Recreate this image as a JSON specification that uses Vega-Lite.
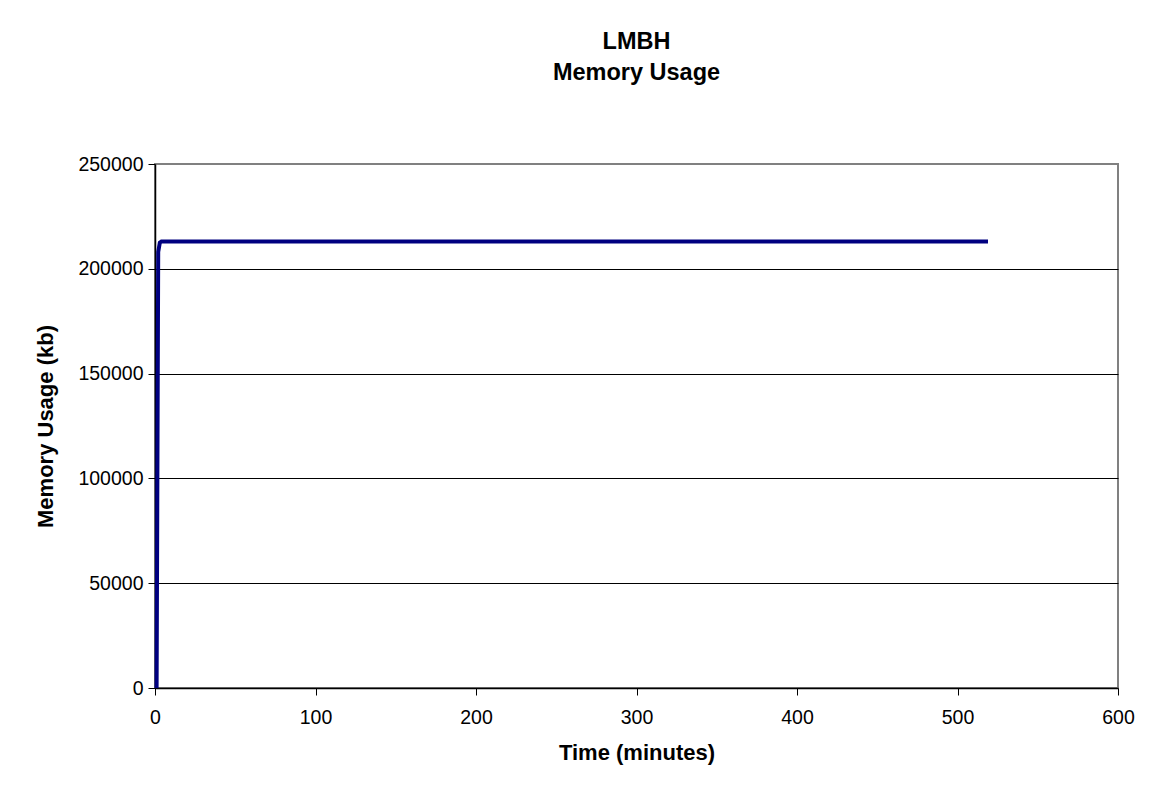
{
  "$schema": "https://vega.github.io/schema/vega-lite/v6.json",
  "width": 963,
  "height": 524,
  "autosize": {"type": "none"},
  "padding": {"left": 155, "top": 164, "right": 40, "bottom": 104},
  "background": "white",
  "title": {
    "text": ["LMBH", "Memory Usage"],
    "font": "Liberation Sans",
    "fontSize": 23.5,
    "fontWeight": "bold",
    "color": "black",
    "anchor": "middle",
    "lineHeight": 31,
    "offset": 70
  },
  "data": {
    "values": [
      {"minutes": 1, "kb": 0},
      {"minutes": 2, "kb": 208000},
      {"minutes": 3, "kb": 212500},
      {"minutes": 4, "kb": 213000},
      {"minutes": 30, "kb": 213000},
      {"minutes": 60, "kb": 213000},
      {"minutes": 120, "kb": 213000},
      {"minutes": 180, "kb": 213000},
      {"minutes": 240, "kb": 213000},
      {"minutes": 300, "kb": 213000},
      {"minutes": 360, "kb": 213000},
      {"minutes": 420, "kb": 213000},
      {"minutes": 480, "kb": 213000},
      {"minutes": 519, "kb": 213000}
    ]
  },
  "mark": {"type": "line", "color": "#000080", "strokeWidth": 4, "strokeCap": "butt", "clip": false},
  "encoding": {
    "x": {
      "field": "minutes",
      "type": "quantitative",
      "scale": {"domain": [0, 600], "nice": false, "zero": true},
      "axis": {
        "title": "Time (minutes)",
        "values": [0, 100, 200, 300, 400, 500, 600],
        "grid": false,
        "tickSize": 7,
        "labelFlush": false,
        "labelPadding": 13,
        "titlePadding": 16
      }
    },
    "y": {
      "field": "kb",
      "type": "quantitative",
      "scale": {"domain": [0, 250000], "nice": false},
      "axis": {
        "title": "Memory Usage (kb)",
        "values": [0, 50000, 100000, 150000, 200000, 250000],
        "format": "d",
        "grid": true,
        "gridColor": "black",
        "gridWidth": 1,
        "gridOpacity": {"condition": {"test": "datum.value == 0 || datum.value == 250000", "value": 0}, "value": 1},
        "tickSize": 7,
        "labelPadding": 5,
        "labelFlush": false,
        "titlePadding": 20
      }
    }
  },
  "config": {
    "view": {"stroke": "#808080", "strokeWidth": 2},
    "axis": {
      "domainColor": "black",
      "domainWidth": 1.5,
      "tickColor": "black",
      "tickWidth": 1,
      "labelFont": "Liberation Sans",
      "labelFontSize": 19.5,
      "labelColor": "black",
      "titleFont": "Liberation Sans",
      "titleFontSize": 22,
      "titleFontWeight": "bold",
      "titleColor": "black"
    }
  }
}
